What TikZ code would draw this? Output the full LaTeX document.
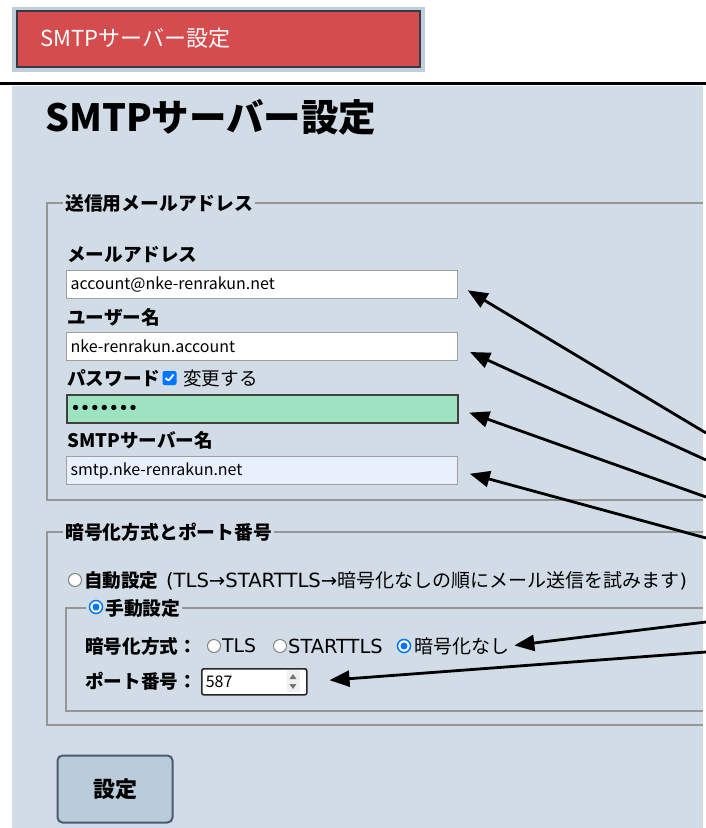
\documentclass[tikz,border=0pt]{standalone}
\usepackage{fontspec}
\setmainfont{Noto Sans CJK JP}
\newfontfamily\dotfont{DejaVu Sans}
\newfontfamily\latinfont{DejaVu Sans}
\usetikzlibrary{positioning}
\usetikzlibrary{arrows.meta}
\definecolor{panelbg}{RGB}{209,220,230}
\definecolor{stripgray}{RGB}{190,206,221}
\definecolor{tabred}{RGB}{213,76,78}
\definecolor{tabedge}{RGB}{55,58,70}
\definecolor{inputgray}{RGB}{160,160,160}
\definecolor{fsgray}{RGB}{150,150,150}
\definecolor{pwgreen}{RGB}{158,227,193}
\definecolor{autofill}{RGB}{232,240,254}
\definecolor{checkblue}{RGB}{0,117,255}
\definecolor{radiogray}{RGB}{130,130,130}
\definecolor{btnfill}{RGB}{185,204,218}
\definecolor{btnedge}{RGB}{75,90,115}
\tikzset{
    tabbar/.style = {rectangle, draw=tabedge, line width=1.5pt, fill=tabred, minimum width=403pt, minimum height=56pt, anchor=north west},
    heading/.style = {anchor=west, inner sep=0pt, font=\bfseries\fontsize{37.5}{37.5}\selectfont},
    lbl/.style = {anchor=west, inner sep=0pt, font=\bfseries\fontsize{18.6}{18.6}\selectfont},
    txt/.style = {anchor=west, inner sep=0pt, font=\fontsize{18.6}{18.6}\selectfont},
    legend/.style = {anchor=west, inner xsep=2pt, inner ysep=1pt, fill=panelbg, font=\bfseries\fontsize{18.8}{18.8}\selectfont},
    fsline/.style = {draw=fsgray, line width=1.6pt},
    inputbox/.style = {rectangle, draw=inputgray, line width=1.2pt, fill=white, anchor=north west, text width=383pt, inner xsep=4pt, inner ysep=0pt, minimum height=28pt, align=left, font=\fontsize{16}{16}\selectfont},
    radio/.style = {circle, draw=radiogray, line width=1pt, fill=white, minimum size=13pt, inner sep=0pt},
    radioon/.style = {circle, draw=checkblue, line width=1.5pt, fill=white, minimum size=13pt, inner sep=0pt,
        path picture={\fill[checkblue] (path picture bounding box.center) circle (3.5pt);}},
    checkbox/.style = {rectangle, rounded corners=2pt, fill=checkblue, minimum size=14pt, inner sep=0pt,
        path picture={\draw[white, line width=1.8pt] ([shift={(-4pt,0pt)}]path picture bounding box.center) -- ([shift={(-1pt,-3pt)}]path picture bounding box.center) -- ([shift={(4pt,3.5pt)}]path picture bounding box.center);}},
    spinbox/.style = {rectangle, draw=black!85, line width=1.6pt, rounded corners=2pt, fill=white, anchor=north west, text width=97pt, inner xsep=4pt, inner ysep=0pt, minimum height=26pt, align=left, font=\fontsize{16}{16}\selectfont},
    btn/.style = {rectangle, draw=btnedge, line width=2pt, rounded corners=5pt, fill=btnfill, minimum width=115pt, minimum height=67pt, font=\bfseries\fontsize{22}{22}\selectfont},
    callout/.style = {line width=2.8pt, -{Triangle[length=20pt,width=16pt]}}
}

\begin{document}
\begin{tikzpicture}[x=1pt,y=-1pt]
  \useasboundingbox (0,0) rectangle (706,828);
  \fill[white] (0,0) rectangle (706,828);

  % menu tab
  \fill[stripgray] (12,7) rectangle (425,72);
  \node[tabbar] (tab) at (16,10) {};
  \node[anchor=west, inner sep=0pt, text=white, font=\fontsize{22}{22}\selectfont] (tabtext) at (40,38) {SMTPサーバー設定};
  \draw[line width=3pt] (0,83) -- (706,83);

  % panel
  \fill[panelbg] (12,86) rectangle (703,828);
  \node[heading] (title) at (45,117) {SMTPサーバー設定};

  % mail address
  \draw[fsline] (703,203) -- (47,203) -- (47,500) -- (703,500);
  \node[legend] (fsmail) at (63,203) {送信用メールアドレス};
  \node[lbl] (lmail) at (67,255) {メールアドレス};
  \node[inputbox] (mail) at (66,270) {account@nke-renrakun.net};
  \node[lbl] (luser) at (67,317) {ユーザー名};
  \node[inputbox] (user) at (66,332) {nke-renrakun.account};
  \node[lbl] (lpass) at (67,378) {パスワード};
  \node[checkbox] (chk) at (169.5,378) {};
  \node[txt] (lchange) at (183,378) {変更する};
  \node[inputbox, fill=pwgreen, draw=black!75, line width=1.8pt] (pass) at (66,394) {\dotfont\bfseries\fontsize{15}{15}\selectfont •••••••};
  \node[lbl] (lserver) at (67,440) {SMTPサーバー名};
  \node[inputbox, fill=autofill] (server) at (66,456) {smtp.nke-renrakun.net};

  % encryption and port
  \draw[fsline] (703,532) -- (47,532) -- (47,725) -- (703,725);
  \node[legend] (fsenc) at (63,532) {暗号化方式とポート番号};
  \node[radio] (rauto) at (75,580) {};
  \node[lbl] (lauto) at (84,580) {自動設定};
  \node[txt, font=\latinfont\fontsize{19.6}{19.6}\selectfont, base right=7pt of lauto] (lautoa) {(TLS→STARTTLS→};
  \node[txt, font=\fontsize{19}{19}\selectfont, base right=0pt of lautoa] (lautob) {暗号化なしの順にメール送信を試みます{\latinfont )}};
  \draw[fsline] (703,608) -- (66,608) -- (66,711) -- (703,711);
  \node[legend] (fsmanual) at (86,608) {\hspace{17pt}手動設定};
  \node[radioon] (rmanual) at (96,607) {};
  \node[lbl] (lenc) at (85,646) {暗号化方式：};
  \node[radio] (rtls) at (214,646) {};
  \node[txt, font=\latinfont\fontsize{18.8}{18.8}\selectfont] (tls) at (222,646) {TLS};
  \node[radio] (rstart) at (280,646) {};
  \node[txt, font=\latinfont\fontsize{19.4}{19.4}\selectfont] (start) at (288,646) {STARTTLS};
  \node[radioon] (rnone) at (404,646) {};
  \node[txt, font=\fontsize{19}{19}\selectfont] (none) at (414,646) {暗号化なし};
  \node[lbl] (lport) at (85,681) {ポート番号：};
  \node[spinbox] (port) at (201,668) {587};
  \fill[black!6] (287,670) rectangle (300,692);
  \fill[black!55] (289.5,679) -- (296.5,679) -- (293,674) -- cycle;
  \fill[black!55] (289.5,684) -- (296.5,684) -- (293,689) -- cycle;

  \node[btn] (set) at (115,789) {設定};

  % callouts
  \coordinate (p1) at (706,433);
  \coordinate (p2) at (706,460);
  \coordinate (p3) at (706,497);
  \coordinate (p4) at (706,538);
  \coordinate (p5) at (706,622);
  \coordinate (p6) at (706,652);
  \draw[callout, shorten >=11pt] (p1) -- (mail.east);
  \draw[callout, shorten >=13pt] (p2) -- (user.east);
  \draw[callout, shorten >=11pt] (p3) -- (pass.east);
  \draw[callout, shorten >=12pt] (p4) -- (server.east);
  \draw[callout, shorten >=5pt] (p5) -- (none.east);
  \draw[callout, shorten >=22pt] (p6) -- (port.east);
\end{tikzpicture}
\end{document}
